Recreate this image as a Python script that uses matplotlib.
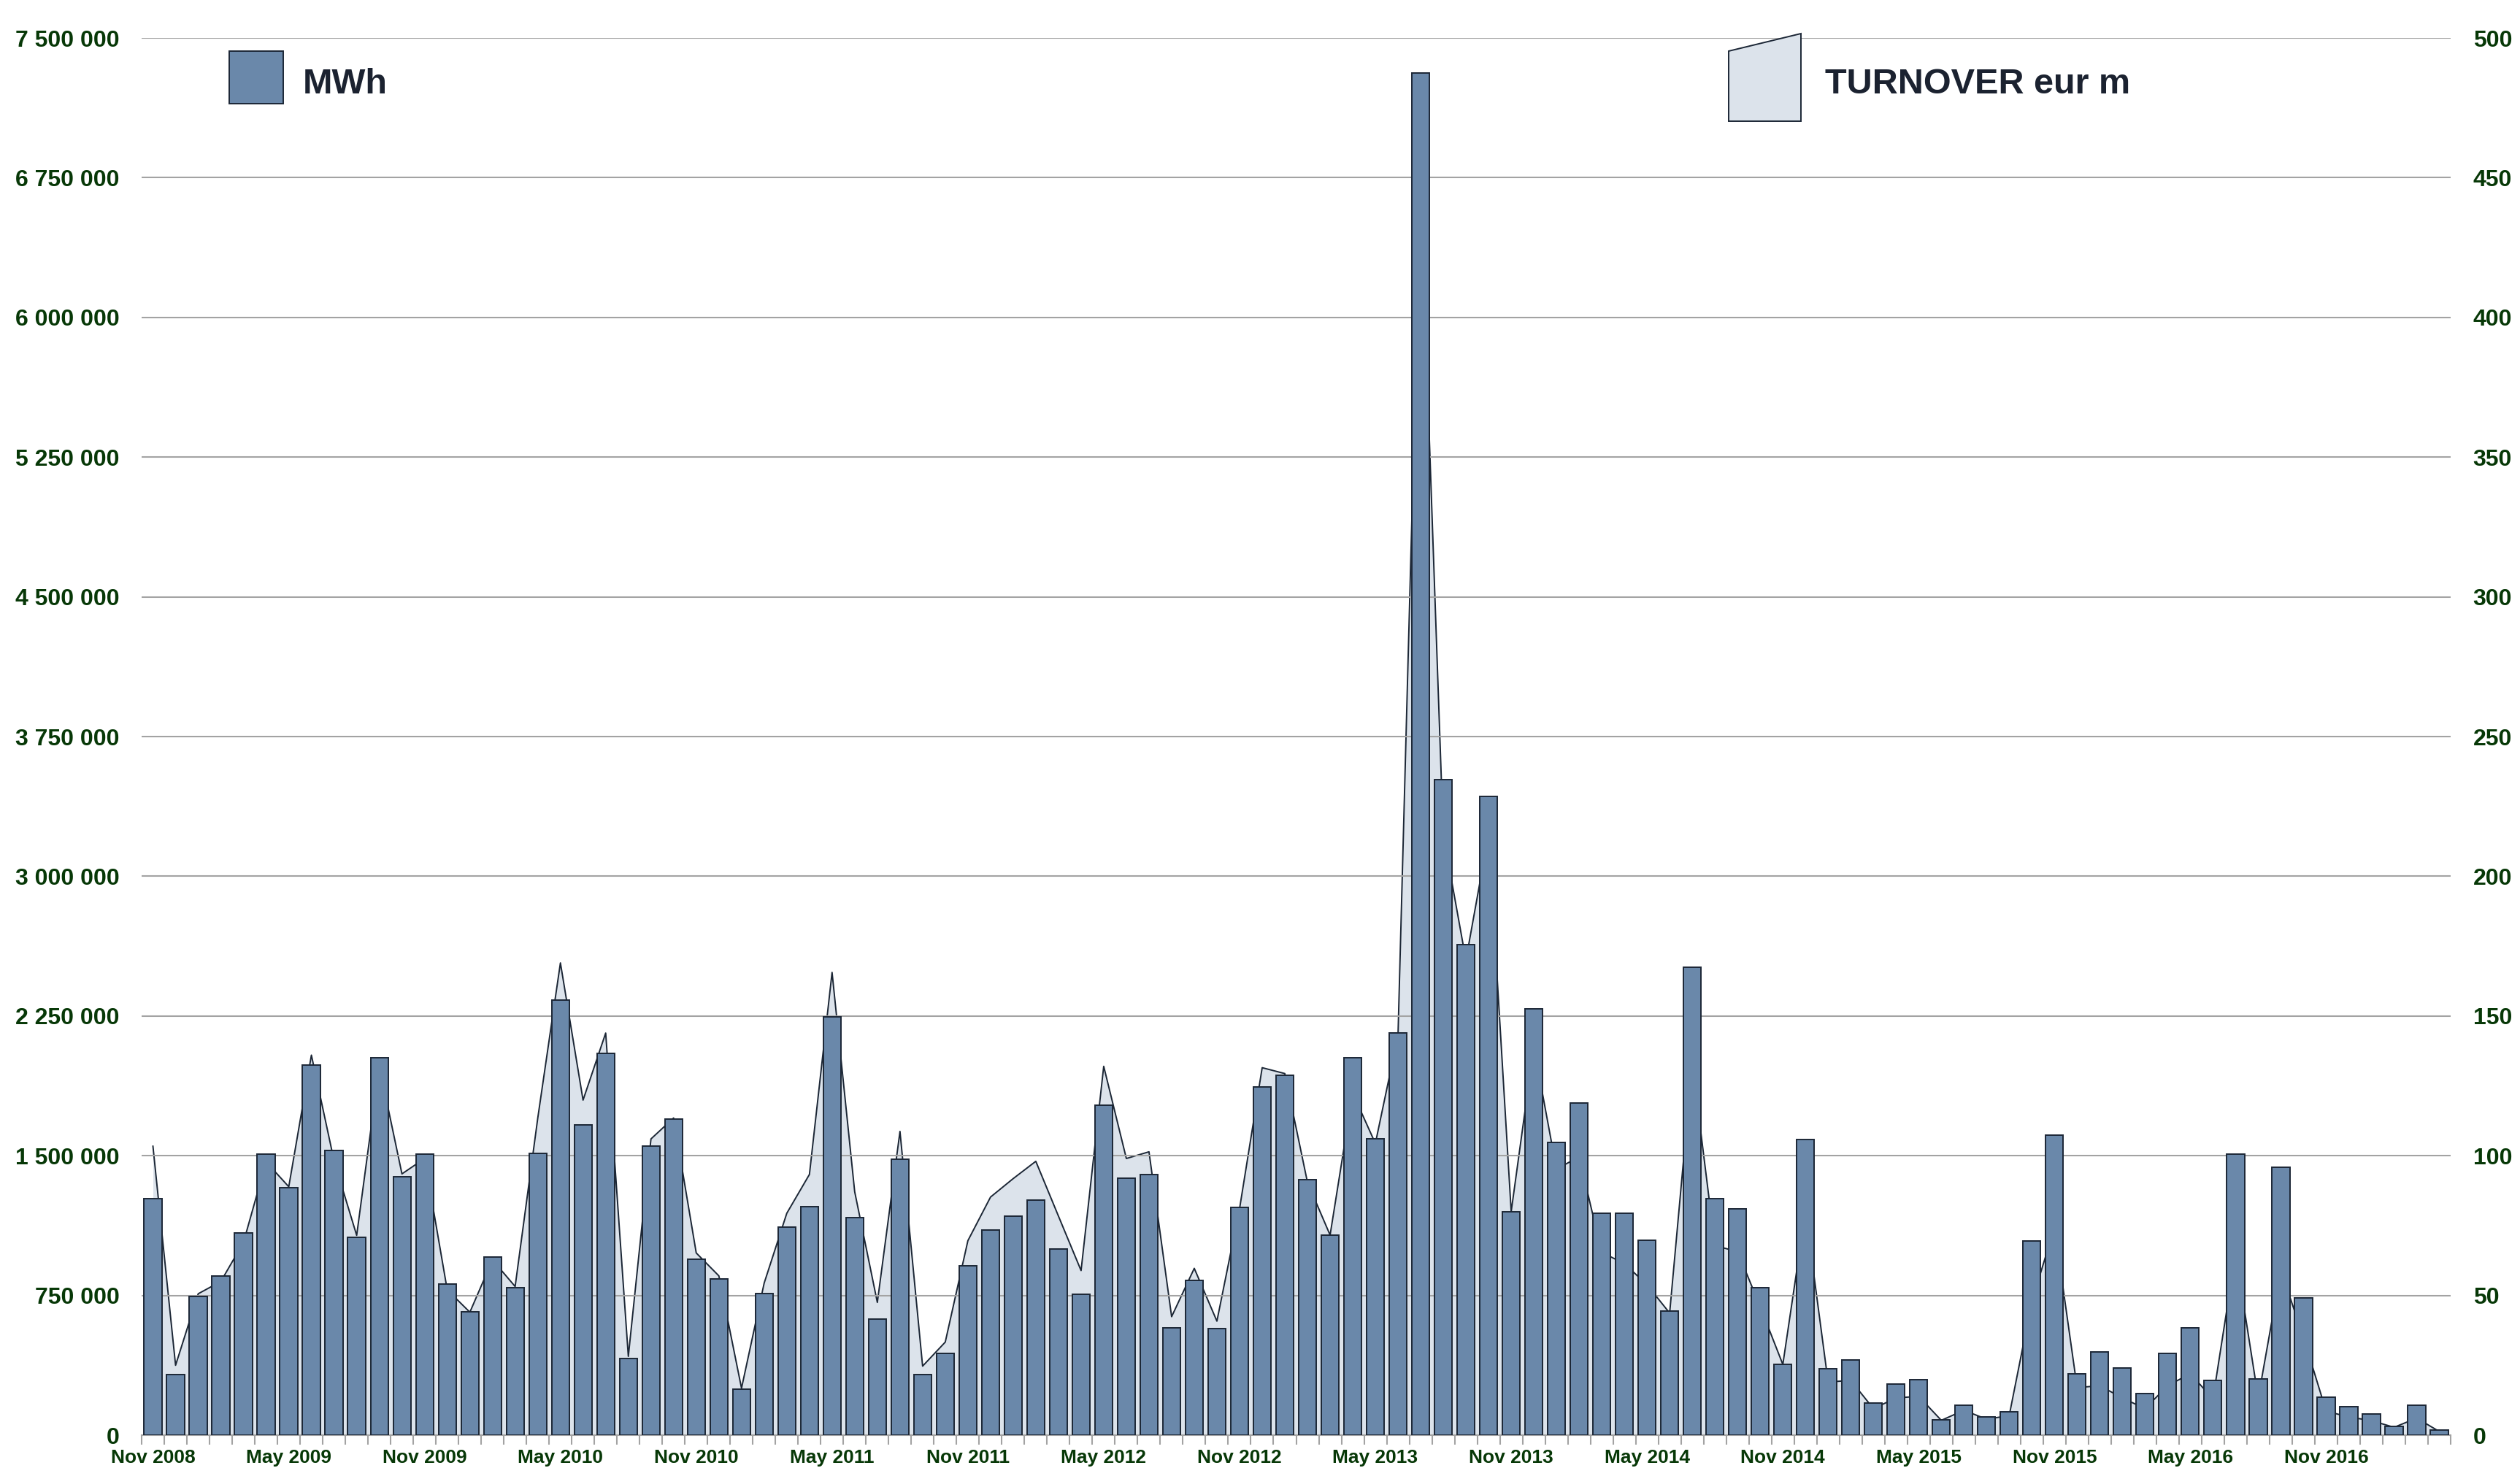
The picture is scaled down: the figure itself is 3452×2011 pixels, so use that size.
import numpy as np
import pandas as pd
import matplotlib
matplotlib.use("Agg")
import matplotlib.pyplot as plt
from matplotlib.patches import Polygon, Rectangle

# monthly data, Nov 2008 .. Apr 2017
months = pd.period_range("2008-11", periods=102, freq="M")
month_labels = [m.strftime("%b %Y") for m in months]

mwh = [
    1270000, 327000, 744000, 854000, 1084000, 1509000, 1327000, 1988000, 1530000, 1063000,
    2026000, 1386000, 1509000, 813000, 661000, 955000, 790000, 1511000, 2337000, 1667000,
    2051000, 410000, 1551000, 1696000, 944000, 839000, 247000, 761000, 1118000, 1227000,
    2244000, 1168000, 625000, 1481000, 327000, 439000, 911000, 1103000, 1177000, 1261000,
    1001000, 756000, 1773000, 1378000, 1400000, 575000, 830000, 573000, 1221000, 1870000,
    1933000, 1373000, 1075000, 2024000, 1589000, 2159000, 7312000, 3520000, 2634000, 3430000,
    1200000, 2288000, 1572000, 1781000, 1190000, 1192000, 1046000, 665000, 2510000, 1270000,
    1215000, 792000, 382000, 1587000, 355000, 403000, 173000, 273000, 296000, 84000,
    161000, 99000, 125000, 1042000, 1610000, 328000, 446000, 359000, 224000, 437000,
    577000, 293000, 1509000, 300000, 1437000, 736000, 203000, 151000, 114000, 47000,
    162000, 26000,
]

turnover = [
    103.4, 25.0, 50.6, 55.0, 69.0, 97.8, 88.9, 136.0, 98.2, 71.5,
    132.0, 93.5, 99.0, 52.0, 44.0, 62.7, 53.2, 113.5, 169.0, 119.9,
    143.9, 28.2, 106.0, 113.5, 65.2, 57.0, 16.8, 54.4, 79.4, 93.3,
    165.6, 87.1, 47.5, 108.7, 24.7, 33.3, 69.6, 85.2, 91.8, 98.0,
    78.4, 58.9, 132.0, 99.0, 101.4, 42.4, 59.7, 40.8, 81.0, 131.5,
    129.4, 90.5, 71.6, 122.4, 104.4, 143.0, 445.0, 215.0, 170.0, 215.0,
    80.0, 139.0, 95.2, 99.6, 65.4, 61.4, 53.8, 43.7, 133.0, 67.8,
    65.7, 46.0, 25.3, 80.0, 19.0, 19.6, 9.5, 13.3, 13.9, 5.3,
    8.9, 5.7, 7.0, 47.8, 74.4, 17.0, 17.7, 13.3, 9.5, 17.7,
    22.0, 13.0, 65.0, 13.3, 59.0, 35.0, 8.6, 6.5, 5.2, 2.8,
    6.1, 1.3,
]

BAR = "#6a88aa"
EDGE = "#1b2635"
AREA = "#dce3eb"
GRID = "#a3a3a3"
GREEN = "#073807"
TEXT = "#1b2230"

plt.rcParams["font.family"] = ["Liberation Sans", "DejaVu Sans"]
plt.rcParams["font.weight"] = "bold"

W, H = 3452, 2011
fig = plt.figure(figsize=(W / 100, H / 100), dpi=100)
left, right, top, bottom = 194, 3357, 52, 1966
ax = fig.add_axes([left / W, 1 - bottom / H, (right - left) / W, (bottom - top) / H])
ax2 = ax.twinx()

x = np.arange(len(mwh))

# turnover area, right scale
ax.fill_between(x, turnover, color=AREA, lw=0, zorder=1)
ax.plot(x, turnover, color=EDGE, lw=1.4, zorder=1.2)
ax.set_ylim(0, 500)
ax.set_yticks(np.arange(0, 501, 50))
ax.yaxis.tick_right()
ax.grid(axis="y", color=GRID, lw=1.5)
ax.set_axisbelow("line")

# MWh bars, left scale
ax2.bar(x, mwh, width=0.78, color=BAR, edgecolor=EDGE, lw=1.4, zorder=3)
ax2.set_ylim(0, 7500000)
ax2.set_yticks(np.arange(0, 7500001, 750000))
ax2.set_yticklabels([f"{v:,.0f}".replace(",", " ") for v in ax2.get_yticks()])
ax2.yaxis.tick_left()

ax.set_xlim(-0.5, len(x) - 0.5)
ax.set_xticks(x[::6])
ax.set_xticklabels(month_labels[::6])
ax.set_xticks(np.arange(-0.5, len(x) + 0.5, 1), minor=True)
ax.tick_params(axis="x", which="major", length=0, pad=14, labelsize=19, labelcolor=GREEN)
ax.tick_params(axis="x", which="minor", length=9, width=1.5, color=GRID)
ax.tick_params(axis="y", length=0, pad=22, labelsize=23, labelcolor=GREEN)
ax2.tick_params(axis="y", length=0, pad=22, labelsize=23, labelcolor=GREEN)

for a in (ax, ax2):
    for s in a.spines.values():
        s.set_visible(False)
ax.spines["bottom"].set_visible(True)
ax.spines["bottom"].set_color(GRID)
ax.spines["bottom"].set_linewidth(1.5)


def fx(px):
    return px / W


def fy(py):
    return 1 - py / H


# legend entries
fig.add_artist(Rectangle((fx(314), fy(142)), fx(388) - fx(314), fy(70) - fy(142),
                         transform=fig.transFigure, facecolor=BAR, edgecolor=EDGE, lw=1.4))
fig.text(fx(415), fy(128), "MWh", fontsize=35, color=TEXT, va="baseline")

fig.add_artist(Polygon([(fx(2368), fy(70)), (fx(2467), fy(46)), (fx(2467), fy(166)), (fx(2368), fy(166))],
                       closed=True, transform=fig.transFigure, facecolor=AREA, edgecolor=EDGE, lw=1.4))
fig.text(fx(2500), fy(128), "TURNOVER eur m", fontsize=35, color=TEXT, va="baseline")

fig.savefig("out.png", dpi=100, facecolor="white")
